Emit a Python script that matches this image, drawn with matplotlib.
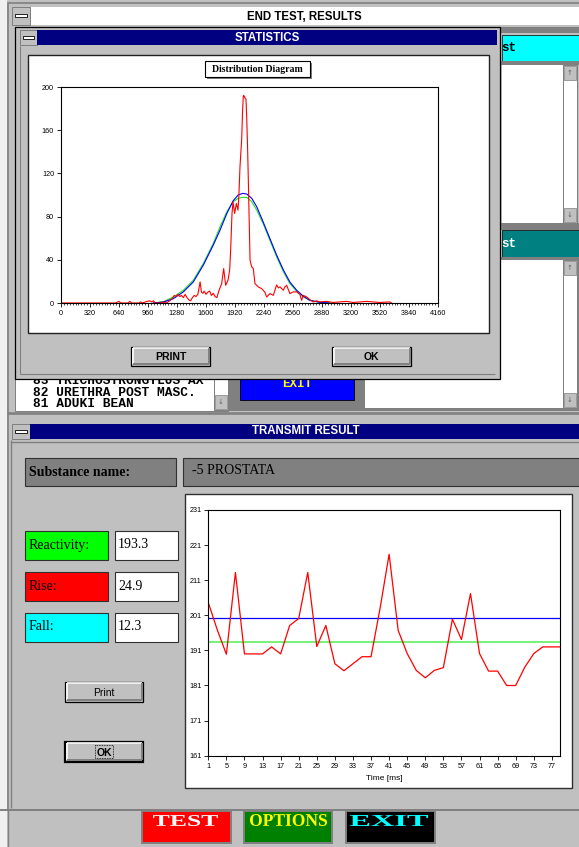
import numpy as np
import matplotlib.pyplot as plt
from matplotlib.patches import Rectangle, PathPatch
from matplotlib.textpath import TextPath
from matplotlib.font_manager import FontProperties
from matplotlib.transforms import Affine2D
from matplotlib.ticker import MultipleLocator

# distribution diagram (STATISTICS window)
dist_x = [0, 600, 640, 660, 740, 760, 780, 860, 880, 900, 950, 980, 1000, 1020, 1040,
          1100, 1130, 1160, 1200, 1225, 1250, 1270, 1290, 1310, 1330, 1350, 1370, 1390,
          1410, 1430, 1450, 1470, 1490, 1510, 1535, 1550, 1565, 1580, 1600, 1620, 1640,
          1660, 1680, 1700, 1720, 1745, 1773, 1795, 1817, 1843, 1861, 1872, 1887, 1898,
          1916, 1935, 1953, 1963, 1975, 1994, 2004, 2012, 2019, 2030, 2041, 2049, 2060,
          2067, 2086, 2104, 2122, 2140, 2177, 2214, 2250, 2269, 2306, 2343, 2379, 2398,
          2416, 2453, 2471, 2490, 2526, 2563, 2600, 2636, 2655, 2673, 2710, 2746, 2783,
          2820, 2857, 2930, 3004, 3077, 3151, 3224, 3298, 3371, 3445, 3518, 3628, 3646]
dist_y = [0, 0, 1.5, 0, 0, 1.5, 0, 0, 1, 0, 1.5, 2, 1, 2, 0,
          0, 1, 0, 2, 4, 7, 6, 8, 6, 7, 5, 8, 5,
          3, 2, 5, 7, 6, 8, 19.5, 10, 9, 11, 8, 10, 11,
          7, 9, 6, 5, 12, 18, 31.9, 16.4, 21.1, 30.4, 48.9, 82.9, 93.8,
          82.9, 92.2, 86, 100, 126, 152.6, 178.8, 192, 192, 189.7, 189, 172.6, 140.1,
          113.9, 39.6, 33.4, 31.9, 18, 14.9, 13.3, 10, 5.6, 8.7, 7.1, 16.8, 14,
          15, 11.8, 15, 16.4, 8.7, 10.3, 10.3, 8, 2.5, 7.1, 5.6, 3.1, 1,
          2, 1, 1.5, 0.5, 1, 1.5, 0.5, 1, 1.5, 1, 0.5, 1, 0]
fit_x = [1020, 1130, 1240, 1350, 1460, 1570, 1680, 1755, 1830, 1900, 1955, 2005, 2050,
         2105, 2160, 2230, 2305, 2380, 2455, 2525, 2600, 2675, 2745, 2855, 2965]
blue_y = [0, 0.9, 4, 10.3, 19.5, 35, 53.6, 67.5, 82.9, 94.7, 100, 101.5, 100.9,
          96.9, 89.1, 75.2, 59.7, 44.2, 30.4, 19.5, 11.8, 6.2, 2.5, 0.6, 0]
green_y = [0, 1.2, 5.6, 11.8, 21.1, 36.5, 55.1, 70.6, 84.5, 93.8, 96.9, 97.8, 97.8,
           93.8, 86, 73.6, 58.2, 42.7, 28.8, 18, 10.9, 5.6, 2.5, 0.6, 0]

# transmit result
time_ms = list(range(1, 80, 2))
signal = [204.6, 196.8, 189.9, 213.2, 190, 190, 190, 192, 190, 198.1,
          200.1, 213.2, 192.1, 198.1, 187.2, 185.2, 187.2, 189.2, 189.2, 203,
          218.4, 196.7, 190.1, 185.3, 183.2, 185.3, 186.1, 199.9, 194.1, 207.2,
          190.1, 185.1, 185.1, 181, 181, 186.2, 190.1, 192, 192, 192]
blue_level = 200.1
green_level = 193.3

substance = '-5 PROSTATA'
labels = ['Reactivity:', 'Rise:', 'Fall:']
values = ['193.3', '24.9', '12.3']
label_colors = ['#00ff00', '#ff0000', '#00ffff']
list_items = ['83 TRICHOSTRONGYLUS AX', '82 URETHRA POST MASC.', '81 ADUKI BEAN']

GRAY = '#c0c0c0'
DARK = '#808080'
NAVY = '#000080'
SANS = 'Liberation Sans'
SERIF = 'Liberation Serif'
MONO = 'Liberation Mono'

W, H = 579, 847
fig = plt.figure(figsize=(W / 100, H / 100), dpi=100)
ui = fig.add_axes([0, 0, 1, 1])
ui.set_xlim(0, W)
ui.set_ylim(H, 0)
ui.axis('off')


def box(x0, y0, x1, y1, fc, ec='none', lw=0.72):
    ui.add_patch(Rectangle((x0, y0), x1 - x0, y1 - y0, fc=fc, ec=ec, lw=lw, zorder=1))


def line(xs, ys, c, lw=0.72, ls='-'):
    ui.plot(xs, ys, color=c, lw=lw, ls=ls, zorder=1, solid_capstyle='butt')


def txt(x, y, s, **kw):
    kw.setdefault('va', 'center')
    ui.text(x, y, s, zorder=1, **kw)


def fitted_text(x0, x1, ytop, ybot, s, color, family=SERIF):
    # text stretched to fill a given pixel box (old wide button fonts)
    tp = TextPath((0, 0), s, size=10, prop=FontProperties(family=family, weight='bold'))
    bb = tp.get_extents()
    t = Affine2D().translate(-bb.x0, -bb.y0).scale((x1 - x0) / bb.width, -(ybot - ytop) / bb.height)
    t = t.translate(x0, ybot)
    ui.add_patch(PathPatch(t.transform_path(tp), fc=color, ec='none', zorder=1))


def bevel(x0, y0, x1, y1):
    line([x0 + 1.5, x1 - 1.5], [y0 + 1.5, y0 + 1.5], 'white', 1.2)
    line([x0 + 1.5, x0 + 1.5], [y0 + 1.5, y1 - 1.5], 'white', 1.2)
    line([x0 + 1.5, x1 - 1.5], [y1 - 1.5, y1 - 1.5], DARK, 1.4)
    line([x1 - 1.5, x1 - 1.5], [y0 + 1.5, y1 - 1.5], DARK, 1.4)


def button(x0, y0, x1, y1, label, lw=0.9, **kw):
    box(x0, y0, x1, y1, GRAY, 'black', lw)
    bevel(x0, y0, x1, y1)
    txt((x0 + x1) / 2, (y0 + y1) / 2 + 0.5, label, ha='center', **kw)


def sysbox(x0, y0, x1, y1):
    box(x0, y0, x1, y1, GRAY, DARK)
    cy = (y0 + y1) / 2
    box(x0 + 3, cy - 1.5, x1 - 3, cy + 1.5, 'white', 'black', 0.6)


def scrollbar(x0, y0, x1, y1):
    box(x0, y0, x1, y1, 'white', DARK)
    box(x0 + 1, y0 + 1, x1 - 1, y0 + 1 + (x1 - x0), GRAY, DARK, 0.5)
    box(x0 + 1, y1 - 1 - (x1 - x0), x1 - 1, y1 - 1, GRAY, DARK, 0.5)
    txt((x0 + x1) / 2, y0 + 1 + (x1 - x0) / 2, '\u2191', ha='center', fontsize=5, color='#606060')
    txt((x0 + x1) / 2, y1 - 1 - (x1 - x0) / 2, '\u2193', ha='center', fontsize=5, color='#606060')


# background
box(0, 0, W, H, GRAY)
box(0, 0, 7, H, '#f0f0f0')

# END TEST, RESULTS window
box(8, 3, W + 2, 413, GRAY, DARK, 1.2)
sysbox(12, 7, 30, 25)
box(31, 7, W + 2, 25, 'white')
txt(304, 16.5, 'END TEST, RESULTS', ha='center', fontsize=8.3, fontweight='bold', family=SANS)

# right column
box(497, 27, W + 2, 33, DARK)
box(502, 35, W + 2, 61, '#00ffff', 'black', 0.5)
txt(501, 48, 'st', fontsize=9, fontweight='bold', family=MONO, color='black')
box(497, 61, W + 2, 65, DARK)
box(502, 65, 563, 223, 'white')
scrollbar(563, 65, 577, 223)
box(497, 223, W + 2, 230, DARK)
box(502, 230, W + 2, 257, '#008080', 'black', 0.5)
txt(501, 244, 'st', fontsize=9, fontweight='bold', family=MONO, color='white')
box(228, 257, W + 2, 411, DARK)
box(365, 260, 563, 408, 'white')
scrollbar(563, 260, 577, 408)
box(240, 378, 354, 400, '#0000ff', 'black', 0.6)
txt(297, 384, 'EXIT', ha='center', fontsize=9, fontweight='bold', family=MONO, color='#ffff00')

# substance list box
box(15, 330, 228, 411, 'white', DARK)
for i, item in enumerate(list_items):
    txt(33, 381 + i * 11.5, item, fontsize=9.3, fontweight='bold', family=MONO)
box(214, 330, 228, 411, GRAY, DARK)
scrollbar(214, 330, 228, 410)

# STATISTICS window
box(15, 27, 500, 379, GRAY, 'black', 0.9)
line([20, 20], [46, 374], DARK, 0.8)
line([20, 495], [374, 374], DARK, 0.8)
sysbox(20, 30, 37, 45)
box(37, 30, 497, 45, NAVY)
txt(267, 38, 'STATISTICS', ha='center', fontsize=8.3, fontweight='bold', family=SANS, color='white')
box(28, 55, 489, 333, 'white', '#202020', 1.0)
box(207, 63, 312, 79, DARK)
box(205, 61, 310, 77, 'white', 'black', 0.8)
txt(257.5, 69.5, 'Distribution Diagram', ha='center', fontsize=7, fontweight='bold', family=SERIF)
button(131, 347, 210, 366, 'PRINT', fontsize=7.5, fontweight='bold', family=SANS)
button(332, 347, 411, 366, 'OK', fontsize=7.5, fontweight='bold', family=SANS)

# TRANSMIT RESULT window
box(8, 414, W + 2, 810, GRAY, DARK, 1.2)
line([11, 11], [440, 808], DARK, 1.0)
sysbox(12, 424, 30, 439)
box(30, 424, W + 2, 439, NAVY)
txt(306, 431.5, 'TRANSMIT RESULT', ha='center', fontsize=8.3, fontweight='bold', family=SANS, color='white')
line([11, W], [442, 442], DARK, 1.0)

box(25, 458, 176, 486, DARK, '#303030', 0.8)
txt(29, 472, 'Substance name:', fontsize=10, fontweight='bold', family=SERIF)
box(183, 458, W + 2, 486, DARK, '#303030', 0.8)
txt(192, 471, substance, fontsize=10, family=SERIF)

for i, (lab, val, col) in enumerate(zip(labels, values, label_colors)):
    y0 = 531 + i * 41
    box(25, y0, 108, y0 + 29, col, '#303030', 0.8)
    txt(29, y0 + 14, lab, fontsize=10, family=SERIF)
    box(115, y0, 178, y0 + 29, 'white', '#303030', 0.8)
    txt(118, y0 + 14, val, fontsize=10, family=SERIF)

button(65, 682, 143, 702, 'Print', fontsize=7.5, family=SANS)
button(65, 742, 143, 762, 'OK', lw=1.6, fontsize=7.5, fontweight='bold', family=SANS)
ui.add_patch(Rectangle((95, 745.5), 18, 13, fc='none', ec='black', lw=0.6, ls=(0, (1, 1)), zorder=1))

box(185, 494, 572, 788, 'white', '#303030', 1.0)

# bottom bar
line([0, W], [810, 810], DARK, 1.4)
line([8, 8], [810, H], DARK, 1.0)
box(142, 811, 231, 843, '#ff0000', DARK, 1.4)
fitted_text(153, 218, 815, 826, 'TEST', 'white')
box(244, 811, 332, 843, '#008000', DARK, 1.4)
fitted_text(250, 327, 814, 826, 'OPTIONS', '#ffff00')
box(346, 811, 435, 843, 'black', DARK, 1.4)
fitted_text(350, 428, 815, 826, 'EXIT', '#00ffff')

# distribution chart
ax1 = fig.add_axes([61 / W, 1 - 303 / H, 377 / W, 216 / H])
ax1.set_facecolor('white')
ax1.plot(fit_x, green_y, color='#20e020', lw=0.8)
ax1.plot(fit_x, blue_y, color='#0000ff', lw=0.8)
ax1.plot(dist_x, dist_y, color='#ff0000', lw=0.8)
ax1.set_xlim(0, 4160)
ax1.set_ylim(0, 200)
ax1.set_xticks(range(0, 4161, 320))
ax1.set_yticks(range(0, 201, 40))
ax1.xaxis.set_minor_locator(MultipleLocator(32))
ax1.tick_params(which='major', length=3, width=0.6, labelsize=5.2, pad=2)
ax1.tick_params(which='minor', length=1.5, width=0.5)
for lab in ax1.get_xticklabels() + ax1.get_yticklabels():
    lab.set_family(SANS)
for s in ax1.spines.values():
    s.set_linewidth(0.8)

# transmit chart
ax2 = fig.add_axes([208.3 / W, 1 - 755.7 / H, (560 - 208.3) / W, 245.7 / H])
ax2.set_facecolor('white')
ax2.axhline(blue_level, color='#0000ff', lw=0.9)
ax2.axhline(green_level, color='#60f060', lw=1.2)
ax2.plot(time_ms, signal, color='#ff0000', lw=0.9)
ax2.set_xlim(1, 78.8)
ax2.set_ylim(161, 231)
ax2.set_xticks(range(1, 78, 4))
ax2.set_yticks(range(161, 232, 10))
ax2.tick_params(length=3, width=0.6, labelsize=5.2, pad=2)
ax2.set_xlabel('Time [ms]', fontsize=6, family=SANS, labelpad=4)
for lab in ax2.get_xticklabels() + ax2.get_yticklabels():
    lab.set_family(SANS)
for s in ax2.spines.values():
    s.set_linewidth(0.8)

fig.savefig('out.png', dpi=100)
